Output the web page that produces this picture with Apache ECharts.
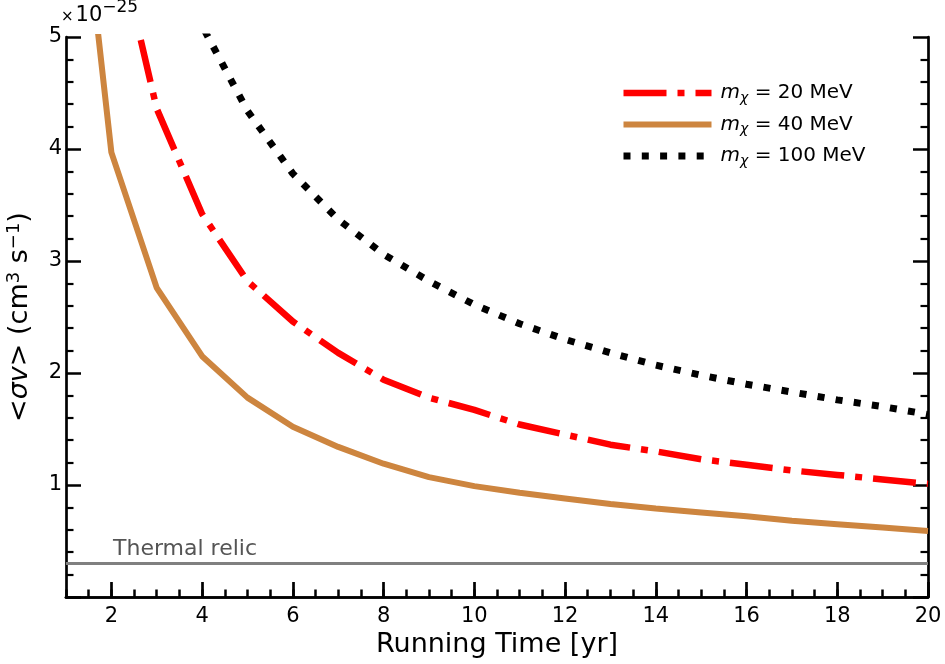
<!DOCTYPE html>
<html>
<head>
<meta charset="utf-8">
<script src="https://cdn.jsdelivr.net/npm/echarts@6/dist/echarts.min.js"></script>
<style>
  html, body { margin: 0; padding: 0; background: #fff; }
  #chart { width: 945px; height: 664px; }
</style>
</head>
<body>
<div id="chart"></div>
<script>
// running time in years
const years = [1, 2, 3, 4, 5, 6, 7, 8, 9, 10, 11, 12, 13, 14, 15, 16, 17, 18, 19, 20];
// <sigma v> in units of 1e-25 cm^3 s^-1
const sigma20 = [12.0, 6.1, 4.36, 3.42, 2.82, 2.46, 2.18, 1.94, 1.78, 1.67, 1.54, 1.45, 1.36, 1.30, 1.23, 1.18, 1.13, 1.09, 1.05, 1.01];
const sigma40 = [7.6, 3.97, 2.76, 2.15, 1.78, 1.52, 1.34, 1.19, 1.07, 0.99, 0.93, 0.88, 0.83, 0.79, 0.755, 0.72, 0.68, 0.65, 0.62, 0.59];
const sigma100 = [20.0, 10.0, 6.7, 5.1, 4.34, 3.78, 3.37, 3.06, 2.82, 2.61, 2.44, 2.30, 2.18, 2.07, 1.98, 1.90, 1.83, 1.76, 1.70, 1.63];
const thermalRelic = 0.3;
const masses = ['20', '40', '100'];
const xTicks = [2, 4, 6, 8, 10, 12, 14, 16, 18, 20];

const FONT = 'DejaVu Sans';
const pair = arr => years.map((t, i) => [t, arr[i]]);
const legendName = m => 'm_chi = ' + m + ' MeV';

var chart = echarts.init(document.getElementById('chart'));

var option = {
  backgroundColor: '#fff',
  animation: false,
  grid: { left: 66, right: 17, top: 37, bottom: 67, outerBoundsMode: 'none' },
  legend: {
    orient: 'vertical',
    left: 615,
    top: 78,
    itemWidth: 88,
    itemHeight: 16,
    itemGap: 9.5,
    data: masses.map(legendName),
    itemStyle: { opacity: 0 },
    lineStyle: { width: 'inherit' },
    formatter: function (name) {
      var m = name.split(' = ')[1].replace(' MeV', '');
      return '{m|m}{c|χ}{t| = ' + m + ' MeV}';
    },
    textStyle: {
      fontFamily: FONT,
      fontSize: 20,
      color: '#000',
      rich: {
        m: { fontFamily: FONT, fontStyle: 'italic', fontSize: 20, color: '#000', padding: [0, 0, 0, 4] },
        c: { fontFamily: FONT, fontStyle: 'italic', fontSize: 14, color: '#000', padding: [10, 0, 0, 0] },
        t: { fontFamily: FONT, fontSize: 20, color: '#000' }
      }
    }
  },
  xAxis: [
    {
      type: 'value', position: 'bottom', min: 1, max: 20,
      name: 'Running Time [yr]', nameLocation: 'middle', nameGap: 31,
      nameTextStyle: { fontFamily: FONT, fontSize: 27, color: '#000' },
      axisLine: { lineStyle: { color: '#000', width: 2.7 } },
      axisTick: { inside: true, length: 15, lineStyle: { color: '#000', width: 2.7 }, customValues: xTicks },
      axisLabel: { fontFamily: FONT, fontSize: 21, color: '#000', margin: 9, customValues: xTicks },
      splitLine: { show: false }
    },
    {
      type: 'value', position: 'top', min: 1, max: 20,
      axisLine: { lineStyle: { color: '#000', width: 2.7 } },
      axisTick: { show: false }, axisLabel: { show: false }, splitLine: { show: false }
    },
    {
      type: 'value', position: 'bottom', min: 1, max: 20, interval: 0.5,
      axisLine: { show: false },
      axisTick: { inside: true, length: 7.5, lineStyle: { color: '#000', width: 2.5 } },
      axisLabel: { show: false }, splitLine: { show: false }
    }
  ],
  yAxis: [
    {
      type: 'value', position: 'left', min: 0, max: 5, interval: 1,
      name: '<{i|σv}> (cm{s|3} s{s|−1})', nameLocation: 'middle', nameGap: 31,
      nameTextStyle: {
        fontFamily: FONT, fontSize: 27, color: '#000',
        rich: {
          i: { fontFamily: FONT, fontStyle: 'italic', fontSize: 27, color: '#000' },
          s: { fontFamily: FONT, fontSize: 18, color: '#000', padding: [0, 0, 12, 0] }
        }
      },
      axisLine: { lineStyle: { color: '#000', width: 2.7 } },
      axisTick: { inside: true, length: 15, lineStyle: { color: '#000', width: 2.5 } },
      minorTick: { show: true, splitNumber: 5, length: 7.5, lineStyle: { color: '#000', width: 2.2 } },
      axisLabel: {
        fontFamily: FONT, fontSize: 21, color: '#000', margin: 4,
        formatter: v => (v === 0 ? '' : String(v))
      },
      splitLine: { show: false }
    },
    {
      type: 'value', position: 'right', min: 0, max: 5, interval: 1,
      axisLine: { lineStyle: { color: '#000', width: 2.7 } },
      axisTick: { inside: true, length: 15, lineStyle: { color: '#000', width: 2.5 } },
      minorTick: { show: true, splitNumber: 5, length: 7.5, lineStyle: { color: '#000', width: 2.2 } },
      axisLabel: { show: false },
      splitLine: { show: false }
    }
  ],
  graphic: [
    {
      type: 'text', left: 61, top: -1,
      style: {
        text: '{a|×}{b|10}{c|−25}',
        rich: {
          a: { fontFamily: FONT, fontSize: 15, color: '#000', padding: [7, 2, 0, 0] },
          b: { fontFamily: FONT, fontSize: 21, color: '#000', padding: [5, 0, 0, 0] },
          c: { fontFamily: FONT, fontSize: 17, color: '#000', padding: [0, 0, 12, 0] }
        }
      }
    },
    {
      type: 'text', left: 113, top: 538,
      style: { text: 'Thermal relic', fontFamily: FONT, fontSize: 22, fill: '#555' }
    }
  ],
  series: [
    {
      name: 'thermal', type: 'line', xAxisIndex: 0, yAxisIndex: 0,
      data: [[years[0], thermalRelic], [years[years.length - 1], thermalRelic]],
      showSymbol: false, symbol: 'none', silent: true,
      lineStyle: { color: '#808080', width: 3 }
    },
    {
      name: legendName(masses[0]), type: 'line', xAxisIndex: 0, yAxisIndex: 0,
      data: pair(sigma20), symbol: 'none', clip: true,
      itemStyle: { color: '#ff0000' },
      lineStyle: { color: '#ff0000', width: 6.5, type: [43, 11, 7, 11], cap: 'butt' }
    },
    {
      name: legendName(masses[1]), type: 'line', xAxisIndex: 0, yAxisIndex: 0,
      data: pair(sigma40), symbol: 'none', clip: true,
      itemStyle: { color: '#cd853f' },
      lineStyle: { color: '#cd853f', width: 6 }
    },
    {
      name: legendName(masses[2]), type: 'line', xAxisIndex: 0, yAxisIndex: 0,
      data: pair(sigma100), symbol: 'none', clip: true,
      itemStyle: { color: '#000' },
      lineStyle: { color: '#000', width: 7, type: [7, 11.3], cap: 'butt' }
    }
  ]
};

chart.setOption(option);
</script>
</body>
</html>
